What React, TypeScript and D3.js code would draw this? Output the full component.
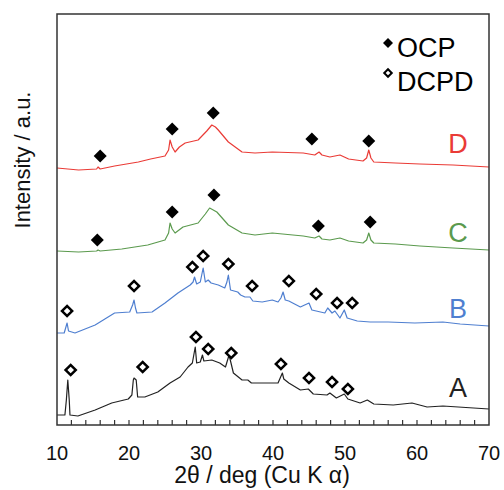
import * as d3 from 'd3';
import React from 'react';

// XRD patterns, intensity in arbitrary units (offset per sample)
const curveA: [number, number][] = [
  [10, 10], [11.1, 10], [11.3, 25], [11.5, 45], [11.7, 25], [11.8, 10], [12.9, 9], [15.3, 15], [17.6, 22],
  [19.9, 26], [20.4, 30], [20.6, 45], [20.7, 47], [21, 45], [21.2, 28], [22.2, 28], [24, 33], [25.7, 42],
  [27.1, 48], [28.2, 58], [28.8, 62], [29.2, 78], [29.4, 62], [29.9, 63], [30.2, 70], [30.4, 64], [31.5, 65],
  [32.6, 62], [33.4, 58], [33.9, 70], [34.5, 52], [35.7, 45], [36.5, 45], [37, 42], [38.5, 42], [39.9, 42],
  [40.7, 42], [41.3, 52], [41.5, 46], [42.2, 42], [43.8, 35], [44.9, 36], [45.6, 31], [47.5, 30], [47.9, 32],
  [48.8, 27], [49.9, 31], [50.4, 26], [52.1, 22], [53.1, 25], [54, 21], [56.7, 20], [59.3, 22], [61.4, 18],
  [63.6, 19], [70, 16],
];
const curveB: [number, number][] = [
  [10, 92], [11, 92], [11.2, 97], [11.4, 102], [11.6, 94], [12.5, 92], [15.3, 100], [18, 112], [20.1, 113],
  [20.5, 120], [20.7, 125], [20.9, 117], [21.1, 112], [23.2, 113], [25, 122], [26.8, 132], [28.5, 140],
  [28.9, 143], [29.1, 148], [29.4, 141], [29.9, 143], [30.1, 150], [30.3, 157], [30.6, 143], [31, 145],
  [31.4, 142], [32.4, 140], [33.3, 137], [33.6, 143], [33.8, 150], [34.1, 135], [35.1, 133], [35.5, 130],
  [36.1, 128], [36.8, 128], [37.2, 124], [38.5, 123], [39.9, 125], [40.7, 123], [41.1, 127], [41.4, 133],
  [41.7, 125], [42.2, 124], [43.8, 118], [45, 122], [45.4, 115], [47.2, 112], [47.6, 117], [48.2, 112],
  [48.6, 114], [49.3, 107], [49.9, 115], [50.3, 107], [51.7, 104], [53.5, 103], [56, 103], [59.7, 102],
  [63.6, 103], [66, 101], [70, 99],
];
const curveC: [number, number][] = [
  [10, 174], [13, 173], [15.5, 174], [15.7, 175], [16, 174], [19, 176], [22.6, 180], [25, 185], [25.5, 192],
  [25.7, 202], [26, 196], [26.4, 192], [27.5, 198], [29.6, 202], [30.6, 211], [31.2, 217], [32.2, 213],
  [33.8, 200], [35.7, 192], [37.5, 190], [39.9, 192], [44.2, 189], [45.8, 187], [46.4, 189], [46.8, 186],
  [47.9, 185], [49.3, 187], [50.5, 184], [52.5, 182], [53, 185], [53.3, 192], [53.6, 185], [54, 182],
  [57, 181], [60.4, 179], [65, 177], [70, 175],
];
const curveD: [number, number][] = [
  [10, 257], [13, 255], [15.5, 256], [15.7, 258], [16, 256], [18, 259], [21.3, 263], [23, 266], [25, 269],
  [25.5, 275], [25.7, 285], [26, 278], [26.4, 273], [27, 278], [27.8, 282], [29.6, 285], [30.8, 294],
  [31.5, 300], [32, 298], [32.4, 295], [33.8, 283], [35.7, 273], [37.5, 272], [39.9, 273], [44.2, 272],
  [45.8, 270], [46.4, 273], [46.8, 270], [47.9, 268], [49.3, 270], [50.5, 266], [52.5, 264], [53, 267],
  [53.3, 275], [53.6, 267], [54, 263], [57, 262], [60.4, 261], [65, 260], [70, 258],
];

// peak markers
const ocpD: [number, number][] = [[16.0, 269], [26.0, 296], [31.7, 312], [45.4, 286], [53.3, 284]];
const ocpC: [number, number][] = [[15.6, 185], [26.0, 213], [31.8, 230], [46.3, 199], [53.5, 203]];
const dcpdB: [number, number][] = [
  [11.4, 114], [20.7, 139], [28.8, 158], [30.3, 169], [33.8, 161], [37.1, 139], [42.2, 144], [46.0, 131],
  [48.9, 122], [51.0, 122],
];
const dcpdA: [number, number][] = [
  [11.9, 55], [21.9, 58], [29.3, 88], [31.0, 76], [34.2, 72], [41.1, 61], [45.0, 47], [48.2, 43], [50.4, 36],
];

const sampleNames = ['A', 'B', 'C', 'D'];
const sampleColors = ['#222222', '#4f7fd0', '#5b9a4e', '#ea3b36'];
const sampleLabelY = [28, 107, 183, 272];
const xTickLabels = [10, 20, 30, 40, 50, 60, 70];

const font = '"Liberation Sans", Arial, sans-serif';

const App = () => {
  const width = 504;
  const height = 490;
  const margin = { top: 14, right: 15, bottom: 65, left: 57 };

  const x = d3.scaleLinear().domain([10, 70]).range([margin.left, width - margin.right]);
  const y = d3.scaleLinear().domain([0, 411]).range([height - margin.bottom, margin.top]);

  const line = d3.line<[number, number]>()
    .x(d => x(d[0]))
    .y(d => y(d[1]));

  const curves = [curveA, curveB, curveC, curveD];
  const minorTicks = d3.range(12, 70, 2);

  const filled = d3.symbol().type(d3.symbolSquare).size(85)();
  const open = d3.symbol().type(d3.symbolSquare).size(52)();
  const legendFilled = d3.symbol().type(d3.symbolSquare).size(50)();
  const legendOpen = d3.symbol().type(d3.symbolSquare).size(28)();

  const y0 = height - margin.bottom;

  return (
    <svg width={width} height={height} style={{ position: 'absolute', left: 0, top: 0 }} fontFamily={font}>
      <rect x={0} y={0} width={width} height={height} fill="#fff" />

      {curves.map((c, i) => (
        <path key={sampleNames[i]} d={line(c) || ''} fill="none" stroke={sampleColors[i]} strokeWidth={1.2}
          strokeLinejoin="round" />
      ))}

      {[...ocpD, ...ocpC].map((d, i) => (
        <path key={'o' + i} d={filled || ''} transform={`translate(${x(d[0])},${y(d[1])}) rotate(45)`} fill="#000" />
      ))}
      {[...dcpdB, ...dcpdA].map((d, i) => (
        <path key={'p' + i} d={open || ''} transform={`translate(${x(d[0])},${y(d[1])}) rotate(45)`}
          fill="#fff" stroke="#000" strokeWidth={2.5} />
      ))}

      {sampleNames.map((n, i) => (
        <text key={n} x={458} y={y(sampleLabelY[i])} textAnchor="middle" fontSize={27} fill={sampleColors[i]}>{n}</text>
      ))}

      {/* legend */}
      <path d={legendFilled || ''} transform="translate(388,43) rotate(45)" fill="#000" />
      <text x={397} y={57} fontSize={27}>OCP</text>
      <path d={legendOpen || ''} transform="translate(388,73) rotate(45)" fill="#fff" stroke="#000" strokeWidth={2} />
      <text x={397} y={91} fontSize={27}>DCPD</text>

      {/* frame and ticks */}
      <rect x={margin.left} y={margin.top} width={width - margin.left - margin.right}
        height={height - margin.top - margin.bottom} fill="none" stroke="#333" strokeWidth={1.5} />
      {minorTicks.map(t => (
        <line key={t} x1={x(t)} x2={x(t)} y1={y0} y2={y0 - 5} stroke="#333" strokeWidth={1.2} />
      ))}
      {xTickLabels.map(t => (
        <text key={t} x={x(t)} y={460} textAnchor="middle" fontSize={20} fill="#111">{t}</text>
      ))}
      <text x={262} y={483} textAnchor="middle" fontSize={23} fill="#111">2θ / deg (Cu K α)</text>
      <text transform="translate(30,160) rotate(-90)" textAnchor="middle" fontSize={22} fill="#111">Intensity / a.u.</text>
    </svg>
  );
};

export default App;
